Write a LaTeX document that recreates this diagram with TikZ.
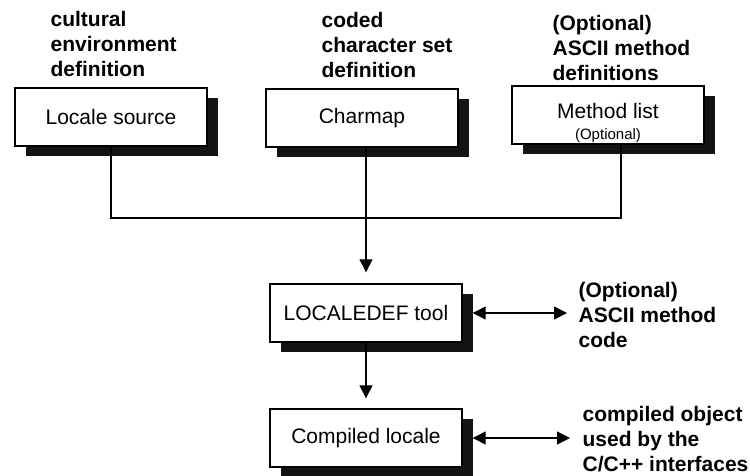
\documentclass[tikz,border=0pt]{standalone}
\usepackage{fontspec}
\setmainfont{Liberation Sans}
\usetikzlibrary{arrows.meta,positioning,calc,shadows}

\begin{document}
\begin{tikzpicture}[x=1pt, y=-1pt, line width=1.3pt,
  bx/.style={draw, fill=white, line width=1.4pt, minimum width=192pt, minimum height=58pt, inner sep=0pt,
    font=\fontsize{21}{25}\selectfont, drop shadow={shadow xshift=11pt, shadow yshift=-10pt, fill=black!92, opacity=1}},
  tx/.style={align=left, inner sep=0pt, anchor=south west, font=\bfseries\fontsize{21}{25}\selectfont},
  ar/.style={-{Triangle[length=13pt, width=13pt]}},
  dar/.style={{Triangle[length=13pt, width=13pt]}-{Triangle[length=13pt, width=13pt]}}]
  \useasboundingbox (0,0) rectangle (750,475);
  % sources
  \node[bx] (ls) at (111,117) {Locale source}; \node[bx] (cm) at (362,118) {Charmap};
  \node[bx, align=center] (ml) at (608,115) {\rule{0pt}{31pt}Method list\\[-4pt]{\fontsize{15}{18}\selectfont (Optional)}};
  \node[tx] (ced) at (50,77) {cultural\\environment\\definition};
  \node[tx] (ccs) at (321,78) {coded\\character set\\definition};
  \node[tx] (amd) at (552,81) {(Optional)\\ASCII method\\definitions};
  % tool and result
  \node[bx] (ld) at (366,313) {LOCALEDEF tool}; \node[bx] (cl) at (366,438) {Compiled locale};
  \node[tx] (amc) at (578,348) {(Optional)\\ASCII method\\code};
  \node[tx] (cob) at (582,473) {compiled object\\used by the\\C/C++ interfaces};
  \coordinate (jn) at (366,218);
  \draw (ls.south) |- (jn) -| ($(ml.south)+(13,0)$);
  \draw ($(cm.south)+(4,0)$) -- (jn);
  \draw[ar, shorten >=11pt] (jn) -- (ld.north);
  \draw[ar, shorten >=10pt] (ld.south) -- (cl.north);
  \draw[dar, shorten <=10pt, shorten >=11pt] (ld.east) -- (ld.east -| amc.west);
  \draw[dar, shorten <=10pt, shorten >=12pt] (cl.east) -- (cl.east -| cob.west);
\end{tikzpicture}
\end{document}
